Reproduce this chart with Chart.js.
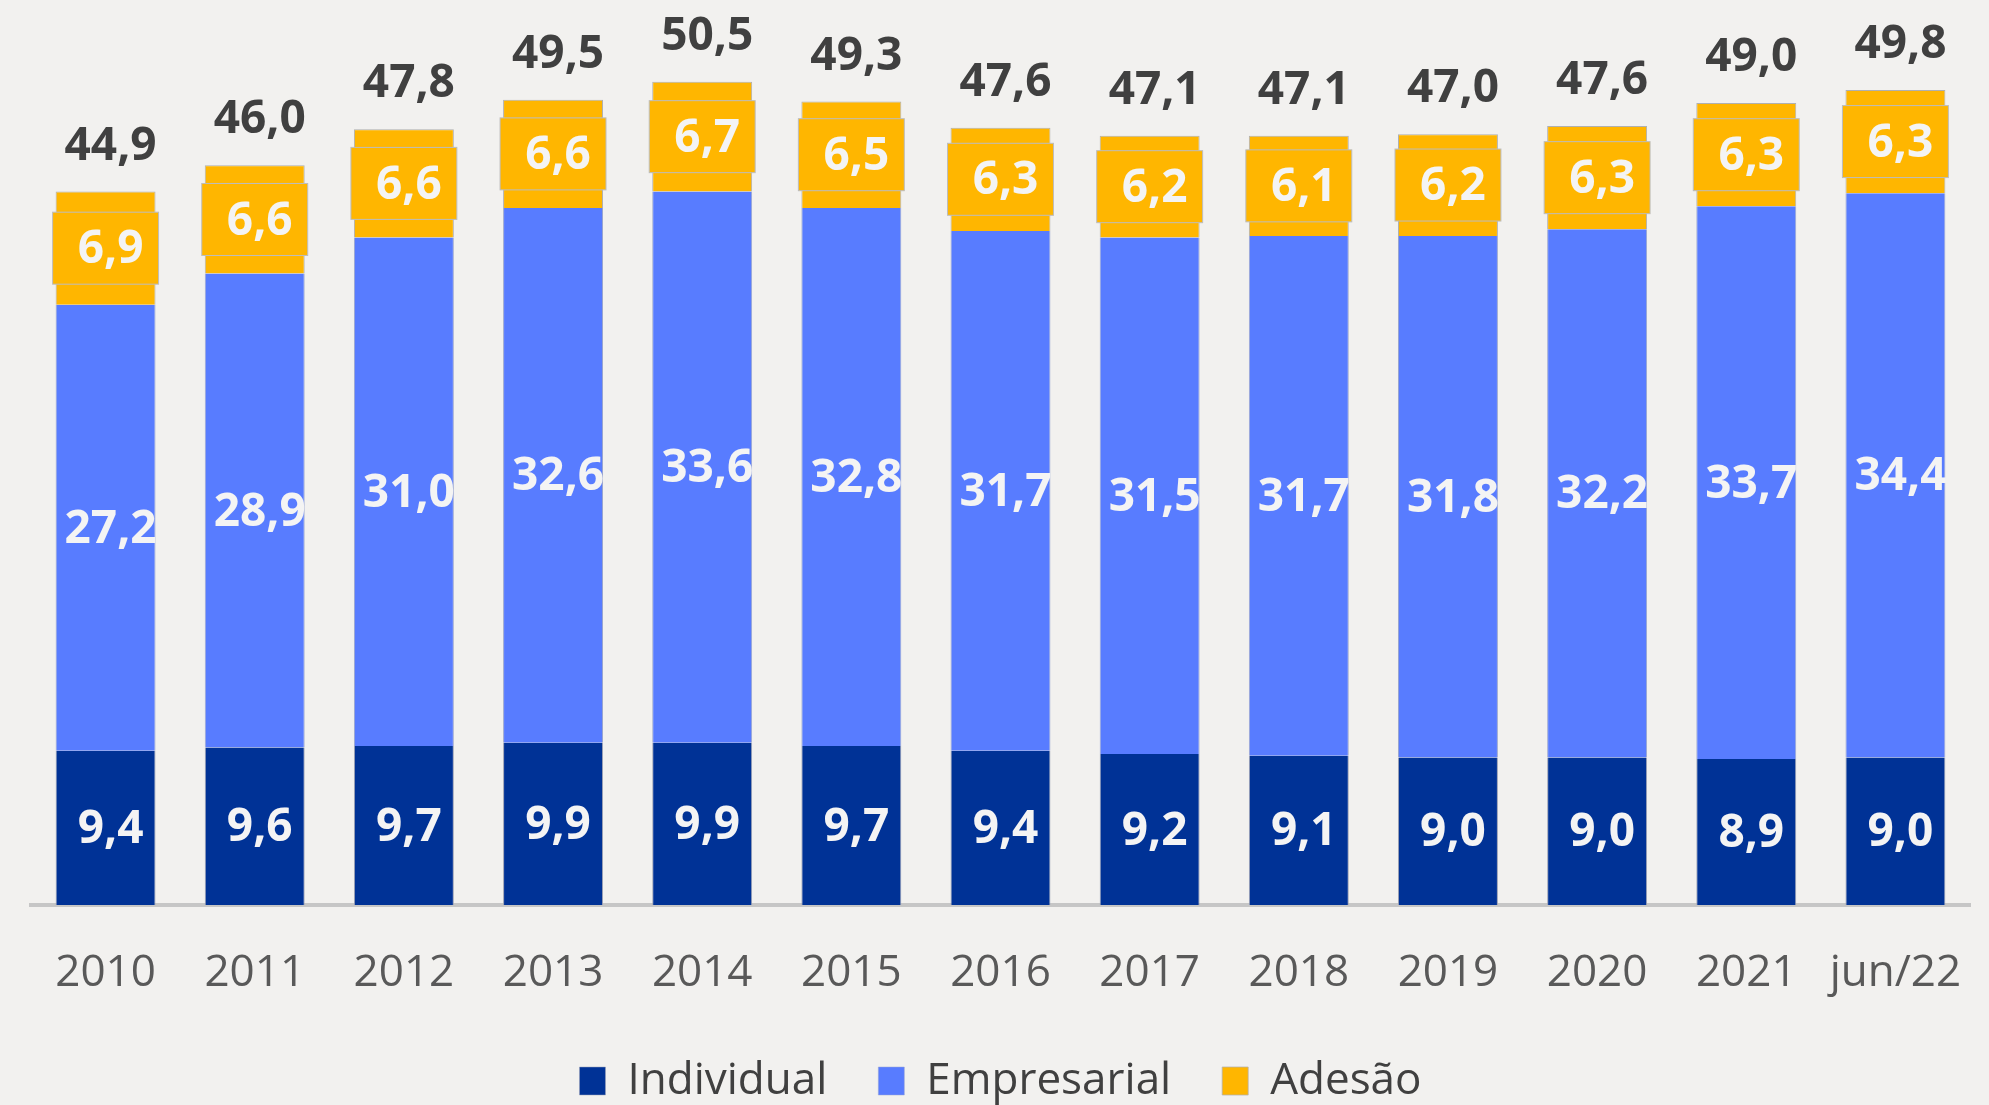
<!DOCTYPE html>
<html>
<head>
<meta charset="utf-8">
<script src="https://cdn.jsdelivr.net/npm/chart.js@4"></script>
<style>
  html, body { margin: 0; padding: 0; background: #F2F1EF; overflow: hidden; }
  #wrap { width: 1989px; height: 1105px; overflow: hidden; }
</style>
</head>
<body>
<div id="wrap"><canvas id="bar-chart" width="1989" height="1105"></canvas></div>
<script>
const categories = ["2010", "2011", "2012", "2013", "2014", "2015", "2016", "2017", "2018", "2019", "2020", "2021", "jun/22"];
const individual = [9.4, 9.6, 9.7, 9.9, 9.9, 9.7, 9.4, 9.2, 9.1, 9.0, 9.0, 8.9, 9.0];
const empresarial = [27.2, 28.9, 31.0, 32.6, 33.6, 32.8, 31.7, 31.5, 31.7, 31.8, 32.2, 33.7, 34.4];
const adesao = [6.9, 6.6, 6.6, 6.6, 6.7, 6.5, 6.3, 6.2, 6.1, 6.2, 6.3, 6.3, 6.3];
const totals = [44.9, 46.0, 47.8, 49.5, 50.5, 49.3, 47.6, 47.1, 47.1, 47.0, 47.6, 49.0, 49.8];

function fmt(v) {
  return v.toFixed(1).replace('.', ',');
}

// draws the values inside the segments and the totals above
const valueLabels = {
  id: 'valueLabels',
  afterDatasetsDraw: function(chart) {
    const ctx = chart.ctx;
    ctx.save();
    ctx.font = 'bold 46px "Open Sans"';
    ctx.textAlign = 'center';
    ctx.textBaseline = 'middle';
    chart.data.datasets.forEach(function(ds, di) {
      const meta = chart.getDatasetMeta(di);
      meta.data.forEach(function(bar, i) {
        const cy = (bar.y + bar.base) / 2;
        if (di === 2) {
          // yellow label box, a bit wider than the bar
          const w = bar.width + 6, h = 72;
          ctx.fillStyle = '#FFB600';
          ctx.strokeStyle = '#BDBDBD';
          ctx.lineWidth = 1;
          ctx.fillRect(bar.x - w / 2, cy - h / 2, w, h);
          ctx.strokeRect(bar.x - w / 2, cy - h / 2, w, h);
        }
        ctx.fillStyle = '#F4F4F4';
        ctx.fillText(fmt(ds.data[i]), bar.x + 5, cy + 2);
        if (di === 2) {
          ctx.fillStyle = '#404040';
          ctx.fillText(fmt(totals[i]), bar.x + 5, bar.y - 45);
        }
      });
    });
    ctx.restore();
  }
};

Chart.defaults.font.family = '"Open Sans", sans-serif';
Chart.defaults.animation = false;

new Chart(document.getElementById('bar-chart'), {
  type: 'bar',
  data: {
    labels: categories,
    datasets: [
      {
        label: 'Individual',
        data: individual,
        backgroundColor: '#003296',
        borderColor: '#9AA0B4',
        borderWidth: {left: 1, right: 1, top: 0, bottom: 0},
      },
      {
        label: 'Empresarial',
        data: empresarial,
        backgroundColor: '#587CFF',
        borderColor: '#9AA6D0',
        borderWidth: {left: 1, right: 1, top: 0, bottom: 0},
      },
      {
        label: 'Adesão',
        data: adesao,
        backgroundColor: '#FFB600',
        borderColor: '#B0B0B0',
        borderWidth: {left: 1, right: 1, top: 1, bottom: 0},
      }
    ]
  },
  options: {
    responsive: false,
    maintainAspectRatio: false,
    layout: {
      padding: {left: 31, right: 19, top: 3, bottom: 0}
    },
    datasets: {
      bar: {
        categoryPercentage: 0.67,
        barPercentage: 1.0,
        borderSkipped: false,
      }
    },
    scales: {
      x: {
        stacked: true,
        grid: {
          display: false,
          drawTicks: false,
        },
        border: {
          display: true,
          color: '#C6C6C6',
          width: 4,
        },
        ticks: {
          color: '#595959',
          padding: 46,
          maxRotation: 0,
          font: {size: 44, lineHeight: 1.0},
        },
        afterFit: function(scale) {
          scale.height = 103;
          scale.paddingLeft = 0;
          scale.paddingRight = 0;
        },
      },
      y: {
        stacked: true,
        display: false,
        min: 0,
        max: 55,
      }
    },
    plugins: {
      legend: {
        position: 'bottom',
        maxHeight: 97,
        labels: {
          color: '#404040',
          boxWidth: 26,
          boxHeight: 28,
          padding: 51,
          font: {size: 44},
        }
      },
      tooltip: {enabled: false}
    }
  },
  plugins: [valueLabels]
});
</script>
</body>
</html>
